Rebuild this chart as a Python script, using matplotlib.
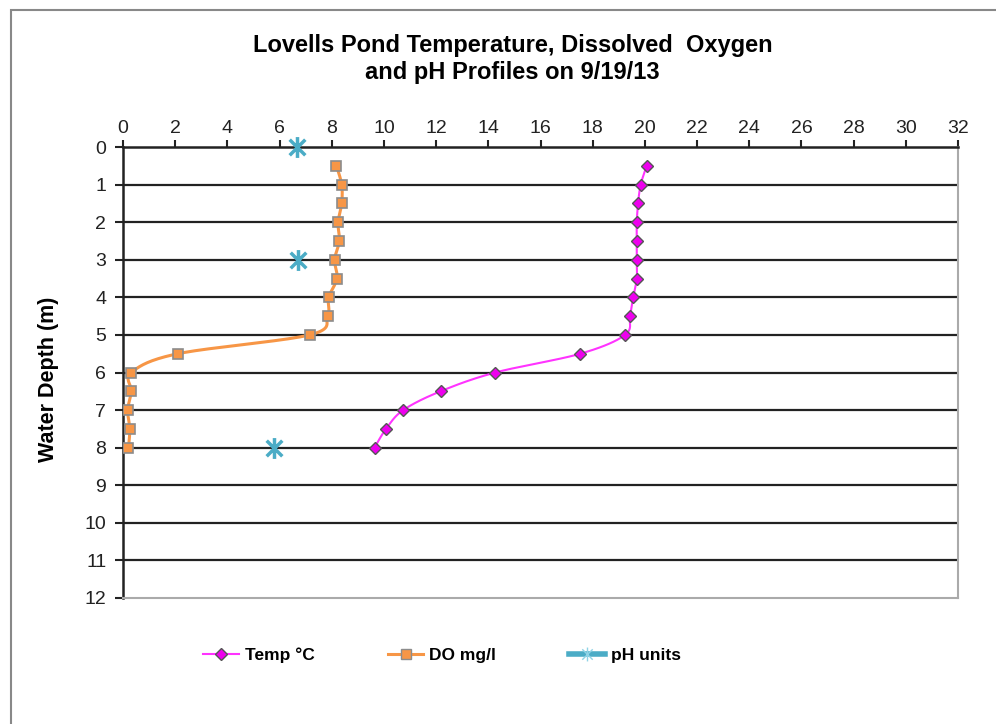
import numpy as np
import matplotlib.pyplot as plt
from matplotlib.lines import Line2D
from matplotlib.patches import Rectangle
from matplotlib.path import Path

# depths (m) and readings
depth = [0.5, 1, 1.5, 2, 2.5, 3, 3.5, 4, 4.5, 5, 5.5, 6, 6.5, 7, 7.5, 8]
temp = [20.07, 19.84, 19.74, 19.69, 19.69, 19.69, 19.69, 19.55, 19.43, 19.24,
        17.53, 14.27, 12.17, 10.74, 10.08, 9.64]
do_mgl = [8.18, 8.38, 8.38, 8.24, 8.29, 8.11, 8.20, 7.88, 7.84, 7.15,
          2.10, 0.32, 0.32, 0.18, 0.26, 0.21]
ph_depth = [0, 3, 8]
ph = [6.66, 6.71, 5.77]

TEMP_C = '#ff33ff'
DO_C = '#f79646'
PH_C = '#4bacc6'

# excel "star" marker: x with a vertical bar
star = Path([(0, -1), (0, 1), (-0.75, -0.75), (0.75, 0.75),
             (-0.75, 0.75), (0.75, -0.75)],
            [Path.MOVETO, Path.LINETO] * 3)


def smooth(ax, x, y, n=20):
    # excel style smoothed line, computed in screen space
    pts = ax.transData.transform(np.column_stack([x, y]))
    out = []
    m = len(pts)
    for i in range(m - 1):
        p0 = pts[max(i - 1, 0)]
        p1 = pts[i]
        p2 = pts[i + 1]
        p3 = pts[min(i + 2, m - 1)]
        c1 = p1 + (p2 - p0) / 6
        c2 = p2 - (p3 - p1) / 6
        t = np.linspace(0, 1, n)[:, None]
        seg = ((1 - t) ** 3 * p1 + 3 * (1 - t) ** 2 * t * c1
               + 3 * (1 - t) * t ** 2 * c2 + t ** 3 * p2)
        out.append(seg)
    out = np.vstack(out)
    d = ax.transData.inverted().transform(out)
    return d[:, 0], d[:, 1]


plt.rcParams['font.family'] = ['Liberation Sans', 'DejaVu Sans']

fig = plt.figure(figsize=(9.96, 7.24), dpi=100)
ax = fig.add_axes([123 / 996, 1 - 598 / 724, (958 - 123) / 996, (598 - 147) / 724])

ax.set_xlim(0, 32)
ax.set_ylim(12, 0)
ax.set_xticks(np.arange(0, 33, 2))
ax.set_yticks(np.arange(0, 13, 1))
ax.xaxis.tick_top()
ax.tick_params(axis='x', direction='out', length=5, width=1.5, pad=2,
               labelsize=14, colors='#222222')
ax.tick_params(axis='y', direction='out', length=6, width=1.5, pad=6,
               labelsize=14, colors='#222222')
for k in ['top', 'left']:
    ax.spines[k].set_linewidth(1.8)
    ax.spines[k].set_color('#222222')
for k in ['right', 'bottom']:
    ax.spines[k].set_linewidth(1.5)
    ax.spines[k].set_color('#aaaaaa')

for d in range(1, 12):
    ax.axhline(d, color='#222222', lw=1.6, zorder=1)

ax.set_ylabel('Water Depth (m)', fontsize=15.5, fontweight='bold')
ax.yaxis.set_label_coords(-0.077, 0.485)

fig.canvas.draw()

tx, ty = smooth(ax, temp, depth)
ax.plot(tx, ty, color=TEMP_C, lw=1.5, zorder=3)
ax.plot(temp, depth, ls='none', marker='D', ms=6, mfc='#ee00ee',
        mec='#555555', mew=1, zorder=4)

dx, dy = smooth(ax, do_mgl, depth)
ax.plot(dx, dy, color=DO_C, lw=2.2, zorder=3)
ax.plot(do_mgl, depth, ls='none', marker='s', ms=7.5, mfc=DO_C,
        mec='#8c8c8c', mew=1.2, zorder=4)

ax.plot(ph, ph_depth, ls='none', marker=star, ms=15, mec=PH_C, mfc='none',
        mew=2.5, zorder=4, clip_on=False)

fig.text(0.5146, 1 - 52 / 724, 'Lovells Pond Temperature, Dissolved  Oxygen',
         ha='center', va='baseline', fontsize=17, fontweight='bold')
fig.text(0.5146, 1 - 79 / 724, 'and pH Profiles on 9/19/13',
         ha='center', va='baseline', fontsize=17, fontweight='bold')

handles = [
    Line2D([], [], color=TEMP_C, lw=1.5, marker='D', ms=6, mfc='#ee00ee',
           mec='#555555'),
    Line2D([], [], color=DO_C, lw=2.2, marker='s', ms=7, mfc=DO_C,
           mec='#8c8c8c'),
    Line2D([], [], color=PH_C, lw=4, marker=star, ms=10, mec='#8fd3e6',
           mfc='none', mew=1),
]
fig.legend(handles, ['Temp °C', 'DO mg/l', 'pH units'], loc='center',
           bbox_to_anchor=(0.444, 0.095), ncol=3, frameon=False,
           prop={'size': 12.5, 'weight': 'bold'}, handlelength=2.05,
           handletextpad=0.35, columnspacing=4.2)

# outer chart frame
fig.patches.append(Rectangle((11 / 996, -0.1), 1.2, 1 - 10 / 724 + 0.1,
                             transform=fig.transFigure, fill=False,
                             ec='#888888', lw=1.5))

fig.savefig('out.png', dpi=100)
